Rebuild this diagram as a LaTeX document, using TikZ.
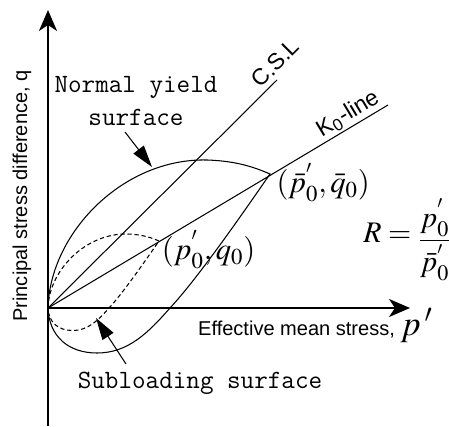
\documentclass[tikz,border=0pt]{standalone}
\usepackage{amsmath}
\usepackage{mathptmx}
\usepackage{fontspec}
\setsansfont{Liberation Sans}
\usepackage{tikz}
\usetikzlibrary{arrows.meta}

\begin{document}
\begin{tikzpicture}[x=0.02cm,y=0.02cm,
  axis/.style={line width=1.3pt,-{Stealth[length=0.42cm,width=0.36cm,inset=0.12cm]}},
  surf/.style={line width=0.6pt},
  subsurf/.style={surf,dash pattern=on 2.4pt off 1.6pt},
  refline/.style={line width=0.6pt},
  callout/.style={line width=0.6pt,-{Triangle[length=0.44cm,width=0.26cm]}},
  monolbl/.style={font=\fontsize{15}{18.7}\selectfont\ttfamily,align=center},
  sanslbl/.style={font=\fontsize{11.4}{13}\selectfont\sffamily},
  linelbl/.style={font=\fontsize{13}{15}\selectfont\sffamily,inner sep=0pt},
  mathlbl/.style={font=\fontsize{17.5}{21}\selectfont,inner sep=0pt}]
  \useasboundingbox (-48,-118) rectangle (401,308);
  \coordinate (O) at (0,0);
  \coordinate (qbot) at (0,-118);
  \coordinate (qtop) at (0,298);
  \coordinate (pend) at (362,0);
  % axes
  \draw[axis] (qbot) -- (qtop);
  \draw[axis] (O) -- (pend);
  \node[sanslbl,rotate=90] (qlbl) at (-26,112) {Principal stress difference, q};
  \node[sanslbl,anchor=base west] (plbl) at (144,-27) {Effective mean stress, {\fontsize{20}{22}\selectfont$p\,'$}};
  % C.S.L and K0-line
  \coordinate (cslend) at (229,228);
  \coordinate (k0end) at (340,203);
  \draw[refline] (O) -- (cslend);
  \draw[refline] (O) -- (k0end);
  \node[linelbl,rotate=45] (csllbl) at (227,245) {C.S.L};
  \node[linelbl,rotate=31] (k0lbl) at (300,194) {K\textsubscript{0}-line};
  % normal yield surface
  \draw[surf] (O) .. controls (2,75) and (75,150) .. (159,148)
    .. controls (190,147) and (208,140) .. (222,134) coordinate (nyA)
    .. controls (195,95) and (150,30) .. (122,0)
    .. controls (100,-25) and (80,-45) .. (49,-45)
    .. controls (20,-45) and (1,-28) .. (O);
  % subloading surface, scaled by R
  \begin{scope}[scale=0.5]
    \draw[subsurf] (0,0) .. controls (2,75) and (75,150) .. (159,148)
      .. controls (190,147) and (208,140) .. (222,134) coordinate (slA)
      .. controls (195,95) and (150,30) .. (122,0)
      .. controls (100,-25) and (80,-45) .. (49,-45)
      .. controls (20,-45) and (1,-28) .. (0,0);
  \end{scope}
  % labels
  \node[mathlbl,anchor=west] (nylbl) at ([xshift=3.5pt,yshift=-5pt]nyA) {$(\bar{p}_0^{'},\bar{q}_0)$};
  \node[mathlbl,anchor=west] (sllbl) at ([xshift=1.5pt,yshift=-5pt]slA) {$(p_0^{'},q_0)$};
  \node[mathlbl,font=\fontsize{17}{20}\selectfont,anchor=base west] (ratio) at (315,66) {$R=\raisebox{-3.5pt}{$\displaystyle\frac{p_0^{'}}{\bar{p}_0^{'}}$}$};
  \node[monolbl] (nysurf) at (88,207) {Normal yield\\surface};
  \node[monolbl] (slsurf) at (152,-75) {Subloading surface};
  \coordinate (nytail) at (77,176);
  \coordinate (nytip) at (104,141);
  \coordinate (sltail) at (78,-56);
  \coordinate (sltip) at (48,-10);
  \draw[callout] (nytail) -- (nytip);
  \draw[callout] (sltail) -- (sltip);
\end{tikzpicture}
\end{document}
